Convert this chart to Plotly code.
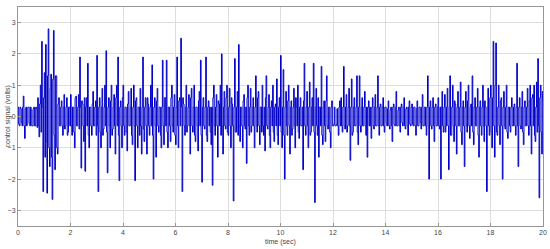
import plotly.graph_objects as go

# control signal values (volts), one row per second of simulation (40 samples / s)
sec00 = [0.3, -0.25, -0.3, 0.3, 0.25, -0.2, -0.3, 0.3, 0.65, -0.3, -0.7, 0.25, 0.3, -0.3, -0.25, 0.3, 0.3, -0.2, -0.3, 0.3, 0.2, -0.3, -0.3, 0.25, 0.3, -0.3, -0.3, 0.3, 0.25, -0.35, 0.6, -0.3, -0.65, 0.4, 1.0, -0.5, 2.4, 0.3, -2.4, 0.6]
sec01 = [1.4, -1.3, 2.3, -0.8, -2.45, 1.3, 2.8, -1.0, -1.6, 0.9, 1.35, -1.3, -2.65, 1.2, 2.75, -0.6, -1.7, 1.3, 1.3, -1.0, -1.2, 0.4, 0.6, -0.3, -0.3, 0.3, 0.5, -0.3, -0.6, 0.3, 0.7, -0.4, -0.3, 0.3, 0.6, -0.6, -0.5, 0.3, 0.3, -0.3]
sec02 = [0.7, -0.3, -0.6, 0.3, 0.3, -0.5, -1.0, 0.6, 0.65, -0.3, -0.3, 0.3, 0.7, -0.4, 1.9, 0.3, -1.65, 0.5, 0.4, -0.3, -0.8, 0.6, -1.75, 0.3, 0.6, -0.3, 1.7, -0.6, -1.0, 0.3, 0.3, -0.3, -0.6, 0.4, 0.8, -0.3, -0.3, 0.3, 0.5, -0.6]
sec03 = [1.95, -0.3, -2.4, 0.3, 0.6, -0.5, -1.0, 0.3, 0.9, -0.6, -0.4, 0.3, 1.0, -0.3, 2.1, -0.5, -1.8, 0.3, 0.6, -0.3, -1.0, 0.5, 1.0, -0.6, -0.4, 0.3, 0.7, -0.3, -1.2, 0.6, 1.0, -0.3, 1.9, -0.6, -2.05, 0.3, 0.5, -0.3, -1.0, 0.6]
sec04 = [1.0, -0.3, -0.6, 0.3, 0.3, -0.5, -1.1, 0.4, 0.8, -0.3, -0.3, 0.3, 0.9, -0.6, -0.9, 0.3, 1.0, -0.3, -2.05, 0.5, 0.6, -0.3, -1.0, 0.3, 0.3, -0.6, 0.9, -0.3, -1.2, 0.3, 1.9, -0.4, -0.8, 0.3, 0.6, -0.3, -1.2, 0.6, 0.4, -0.3]
sec05 = [-0.6, 0.3, 1.0, -0.3, 1.65, -0.6, -2.0, 0.3, 0.6, -0.3, -1.3, 0.5, 0.9, -0.3, -0.5, 0.3, 0.3, -0.6, -1.0, 0.3, 1.8, -0.3, -0.9, 0.6, 0.6, -0.3, 1.8, -0.5, -1.0, 0.3, 0.3, -0.3, -0.8, 0.6, 1.0, -0.3, -0.5, 0.3, 0.7, -0.6]
sec06 = [-0.9, 0.3, 1.9, -0.3, -1.0, 0.5, 0.6, -0.3, 2.5, 0.3, -2.4, 0.6, 0.4, -0.3, -0.6, 0.3, 1.0, -0.5, -0.3, 0.3, 0.7, -0.3, -1.2, 0.6, 0.9, -0.3, -0.5, 0.3, 1.0, -0.6, -0.8, 0.3, 0.3, -0.3, -1.1, 0.5, 0.8, -0.3, 1.8, -0.6]
sec07 = [-2.1, 0.3, 0.6, -0.3, -0.4, 0.3, 1.9, -0.6, -0.8, 0.3, 0.5, -0.3, 0.3, -0.5, -0.9, 0.3, -2.2, 0.6, 1.0, -0.3, -0.6, 0.3, 0.7, -0.3, -1.3, 0.5, 0.4, -0.3, 1.0, -0.6, 2.0, -0.3, -1.2, 0.3, 0.8, -0.3, -0.4, 0.6, 1.0, -0.5]
sec08 = [-0.6, 0.3, 0.9, -0.3, -1.0, 0.6, 0.4, -0.3, -2.7, 0.3, 1.85, -0.5, -0.5, 0.3, 0.8, -0.6, 2.3, -0.3, -0.8, 0.3, 0.3, -0.3, -1.0, 0.5, 0.7, -0.3, -0.4, 0.3, -1.5, 0.6, 1.0, -0.3, -0.6, 0.3, 0.9, -0.5, -0.3, 0.3, 0.6, -0.3]
sec09 = [-1.0, 0.3, 1.3, -0.3, -0.5, 0.6, 0.8, -0.3, -0.9, 0.3, 0.3, -0.5, 1.0, -0.3, -0.6, 0.3, -1.1, 0.6, 1.3, -0.3, -0.4, 0.3, 0.7, -0.6, -1.0, 0.3, 0.5, -0.3, 1.0, -0.5, -0.8, 0.3, 0.4, -0.3, 1.2, -0.6, -0.9, 0.3, 0.6, -0.3]
sec10 = [1.95, -0.5, -1.0, 0.3, 1.5, -0.6, -2.0, 0.3, 0.8, -0.3, -0.6, 0.5, 1.0, -0.3, -1.2, 0.3, 0.5, -0.6, -0.4, 0.3, 0.9, -0.3, -1.0, 0.6, 0.3, -0.3, 1.0, -0.5, -0.7, 0.3, 0.6, -0.3, -0.3, 0.3, -1.7, 0.5, 1.7, -0.3, -0.6, 0.3]
sec11 = [0.8, -0.3, -1.0, 0.3, 1.1, -0.6, -0.5, 0.3, 0.6, -0.3, 1.7, -0.5, -2.75, 0.3, 0.9, -0.3, -0.6, 0.6, -1.3, 0.3, 0.3, -0.3, 1.6, -0.6, -0.9, 0.3, 0.5, -0.3, -0.8, 0.5, 1.3, -0.3, -0.4, 0.3, 0.3, -0.5, -1.0, 0.3, 0.5, -0.3]
sec12 = [-0.3, -0.25, 0.3, -0.3, -0.3, -0.25, 0.25, -0.3, -0.6, 0.3, 0.5, -0.3, 0.6, -0.3, -0.5, 0.3, 1.6, -0.3, -0.4, 0.3, 0.7, -0.5, -0.3, 0.3, 0.9, -0.3, -1.4, 0.3, 1.2, -0.6, -0.5, 0.3, 0.6, -0.3, -0.3, 0.3, 1.3, -0.5, -0.9, 0.3]
sec13 = [1.3, -0.3, -0.5, 0.3, 0.6, -0.3, -0.3, 0.3, 0.8, -0.3, -0.6, 0.3, -1.3, 0.3, 0.5, -0.3, 0.3, -0.3, -0.7, 0.3, 0.6, -0.3, -0.4, 0.3, 0.7, -0.3, -0.3, 0.3, 1.3, -0.3, -0.6, 0.3, 0.4, -0.3, -0.3, 0.3, 0.6, -0.3, -0.5, 0.3]
sec14 = [0.3, -0.2, -0.3, 0.25, 0.5, -0.3, -0.4, 0.2, 0.3, -0.3, -0.8, 0.3, 0.4, -0.25, -0.3, 0.3, 0.8, -0.3, -0.3, 0.2, 0.3, -0.3, -0.5, 0.3, 0.4, -0.2, -0.3, 0.3, 0.6, -0.3, -0.4, 0.25, 0.3, -0.3, -0.6, 0.3, 0.5, -0.25, -0.3, 0.3]
sec15 = [0.4, -0.25, -0.3, 0.3, 0.3, -0.3, -0.6, 0.25, 0.5, -0.3, -0.3, 0.3, 0.3, -0.2, -0.4, 0.3, 0.7, -0.3, -0.3, 0.3, 0.3, -0.3, -0.6, 0.3, 1.3, -0.3, -2.0, 0.3, 0.5, -0.3, -0.4, 0.3, 0.6, -0.3, -0.8, 0.3, 0.4, -0.3, -0.3, 0.3]
sec16 = [0.6, -0.3, -0.4, 0.3, -2.0, 0.3, 0.8, -0.3, -0.5, 0.3, 0.7, -0.5, -0.3, 0.3, 0.9, -0.3, -1.7, 0.3, 1.3, -0.6, -0.6, 0.3, 1.0, -0.3, -0.8, 0.5, 0.4, -0.3, -1.2, 0.3, 0.8, -0.3, -0.3, 0.3, 1.1, -0.5, -0.9, 0.3, 0.5, -0.3]
sec17 = [-1.6, 0.3, 0.8, -0.3, -0.5, 0.5, 1.0, -0.3, -0.7, 0.3, 0.4, -0.3, 1.3, -0.5, -0.9, 0.3, 0.6, -0.3, -0.3, 0.3, 0.9, -0.6, -1.3, 0.3, 0.5, -0.3, -0.6, 0.3, 1.0, -0.3, -0.8, 0.5, 0.3, -0.3, -2.4, 0.3, 0.9, -0.3, -0.6, 0.6]
sec18 = [1.0, -0.5, -1.0, 0.6, 2.4, -0.3, -1.3, 1.0, 2.35, -0.5, -0.6, 0.3, 1.0, -0.3, -0.9, 0.5, 0.6, -0.3, -2.0, 0.3, 0.8, -0.3, -0.4, 0.3, 1.0, -0.5, -0.7, 0.3, 0.3, -0.3, -0.5, 0.3, 0.6, -0.3, -0.3, 0.3, 0.4, -0.3, -0.6, 0.3]
sec19 = [1.7, -0.3, -1.6, 0.3, 0.6, -0.3, -0.4, 0.3, 0.8, -0.5, -0.9, 0.3, 0.5, -0.3, -0.3, 0.3, 0.9, -0.3, -0.6, 0.5, 1.0, -0.3, -1.2, 0.6, 0.7, -0.3, 1.0, -0.6, -0.8, 0.3, 1.1, -0.5, 1.85, -0.3, -2.6, 0.6, 1.0, -0.5, -1.2, 0.8]
last_value = 0.5

x_ticks = [0, 2, 4, 6, 8, 10, 12, 14, 16, 18, 20]
y_ticks = [-3, -2, -1, 0, 1, 2, 3]

rows = [sec00, sec01, sec02, sec03, sec04, sec05, sec06, sec07, sec08, sec09,
        sec10, sec11, sec12, sec13, sec14, sec15, sec16, sec17, sec18, sec19]

t, u = [], []
for s, row in enumerate(rows):
    n = len(row)
    for i, v in enumerate(row):
        t.append(s + i / n)
        u.append(v)
t.append(20.0)
u.append(last_value)

fig = go.Figure()
fig.add_trace(go.Scatter(
    x=t, y=u, mode='lines',
    line=dict(color='rgb(0,0,200)', width=1, shape='hv', simplify=False),
    showlegend=False
))

grid = 'rgb(222,222,222)'
axis_style = dict(showgrid=True, gridcolor=grid, gridwidth=1, zeroline=False,
                  showline=True, linecolor='rgb(150,150,150)', linewidth=1, mirror=True,
                  ticks='inside', ticklen=3, tickcolor='rgb(150,150,150)', automargin=False)

fig.update_layout(
    width=550, height=249,
    margin=dict(l=18, r=7, t=7, b=23),
    paper_bgcolor='white', plot_bgcolor='white',
    font=dict(family='Liberation Sans, Arial', size=7, color='rgb(70,70,70)'),
    xaxis=dict(range=[0, 20], tickvals=x_ticks, **axis_style),
    yaxis=dict(range=[-3.5, 3.5], tickvals=y_ticks, **axis_style),
    annotations=[
        dict(text='time (sec)', x=0.5, y=0, xref='paper', yref='paper',
             xanchor='center', yanchor='middle', yshift=-16,
             showarrow=False, font=dict(size=7)),
        dict(text='control signal (volts)', x=0, y=0.5, xref='paper', yref='paper',
             xanchor='center', yanchor='middle', xshift=-11,
             textangle=-90, showarrow=False, font=dict(size=7)),
    ],
)

# drop the default page margin so the 550x249 figure fills the window
fig.write_html("out.html", config={'displayModeBar': False},
               post_script="document.body.style.margin='0px';")
